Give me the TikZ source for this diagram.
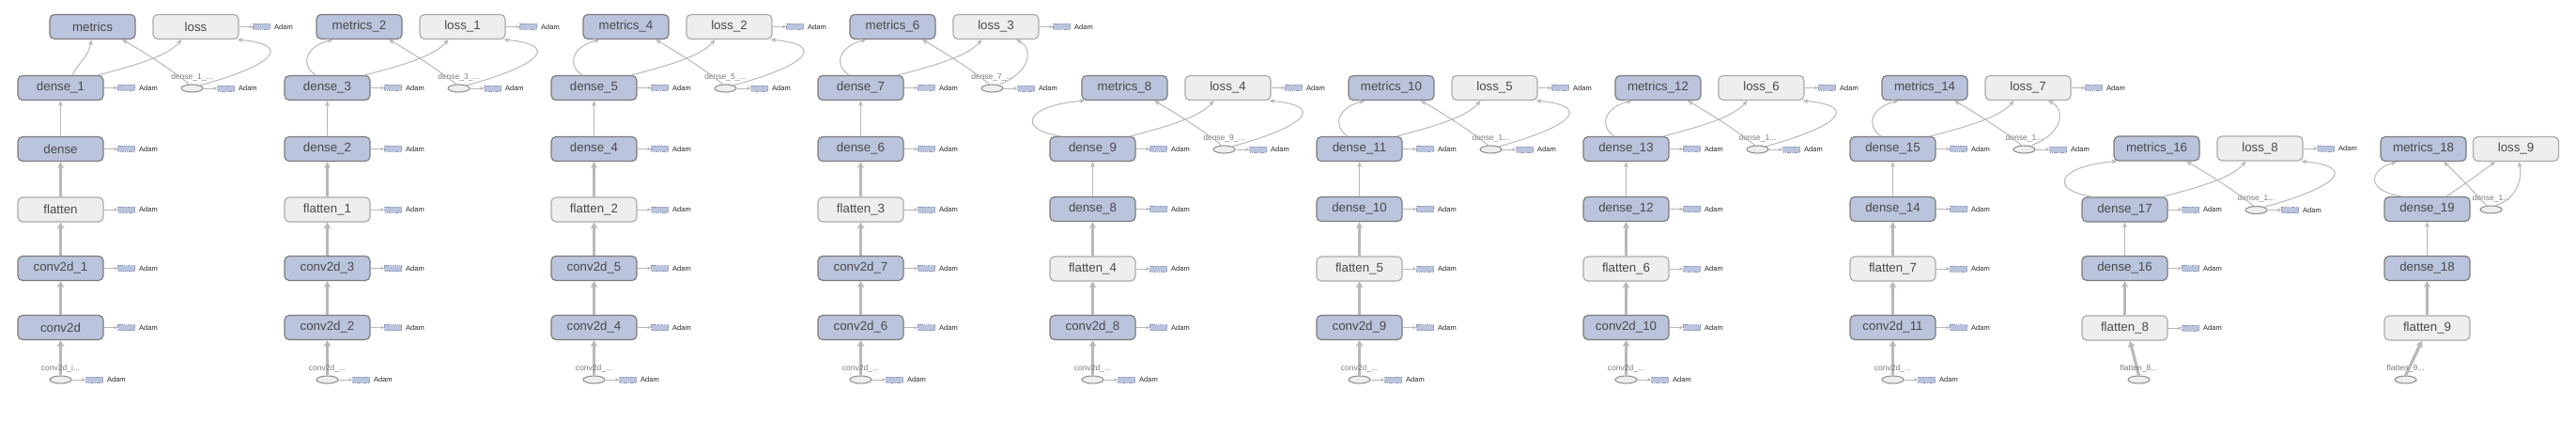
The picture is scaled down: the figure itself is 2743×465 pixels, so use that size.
\documentclass[tikz,border=0pt]{standalone}
\usepackage{fontspec}
\setmainfont{Liberation Sans}
\usetikzlibrary{arrows.meta,shapes.geometric}
\definecolor{nblue}{HTML}{BAC4DC}
\definecolor{nbord}{HTML}{7C7C7C}
\definecolor{nlight}{HTML}{EEEEEE}
\definecolor{lbord}{HTML}{ABABAB}
\definecolor{ntext}{HTML}{4A4A4A}
\definecolor{ecol}{HTML}{B8B8B8}
\definecolor{etext}{HTML}{7A7A7A}
\definecolor{abord}{HTML}{8E9BC2}
\newcommand{\nfont}{\fontsize{13.3}{14}\selectfont}
\newcommand{\smfont}{\fontsize{8.5}{9}\selectfont}
\newcommand{\afont}{\fontsize{7.5}{8}\selectfont}
\tikzset{
  bnode/.style={draw=nbord, fill=nblue, line width=1.2pt, rounded corners=5pt, minimum width=91pt, minimum height=26pt, inner sep=0pt, text=ntext, font=\nfont},
  lnode/.style={bnode, draw=lbord, fill=nlight},
  enode/.style={ellipse, draw=lbord!85!black, fill=nlight, line width=1.1pt, minimum width=23pt, minimum height=8pt, inner sep=0pt},
  elab/.style={font=\smfont, text=etext, inner sep=0pt},
  abox/.style={draw=abord, dash pattern=on 1.5pt off 0.8pt, fill=nblue, line width=0.8pt, minimum width=18pt, minimum height=6pt, inner sep=0pt},
  atext/.style={font=\afont, text=black!85, anchor=west, inner sep=0pt},
  thinflow/.style={draw=ecol, line width=1pt, -{Stealth[length=6pt,width=5pt]}},
  midflow/.style={draw=ecol, line width=2.6pt, -{Stealth[length=7pt,width=7pt]}},
  fatflow/.style={draw=ecol, line width=3.2pt, -{Stealth[length=7pt,width=8pt]}},
  aflow/.style={draw=ecol, line width=0.9pt, -{Stealth[length=4pt,width=4pt]}}
}
\newcommand{\adamof}[1]{%
  \node[abox] (#1-ab) at ([xshift=24pt]#1.east) {};
  \node[atext] (#1-at) at ([xshift=4pt]#1-ab.east) {Adam};
  \draw[aflow] (#1.east) -- (#1-ab.west);
}
\newcommand{\toppart}[5]{%
  \node[bnode] (#1m) at (34,28.5) {#2};
  \node[lnode] (#1l) at (144,28.5) {#3};
  \node[bnode] (#1d) at (0,93.5) {#4};
  \node[enode] (#1e) at (140,94) {};
  \node[elab] (#1el) at (140,82) {#5};
  \draw[thinflow] ([xshift=40pt]#1d.north) .. controls (90,67) and (115,58) .. ([xshift=-15pt]#1l.south);
  \draw[thinflow] ([xshift=-3pt]#1e.north) .. controls (115,72) and (88,55) .. ([xshift=31.5pt]#1m.south);
  \adamof{#1l}\adamof{#1d}\adamof{#1e}%
}
\newcommand{\mleft}[1]{\draw[thinflow] ([xshift=-12.5pt]#1d.north) .. controls (-28,70) and (-25,50) .. ([xshift=-28pt]#1m.south);}
\newcommand{\mbig}[1]{\draw[thinflow] ([xshift=-33.5pt]#1d.north) .. controls (-82,73) and (-72,47) .. ([xshift=-42pt]#1m.south);}
\newcommand{\lright}[1]{\draw[thinflow] (#1e.north east) .. controls (225,70) and (250,48) .. ([xshift=44pt]#1l.south);}
\newcommand{\lup}[1]{\draw[thinflow] ([xshift=8pt]#1e.north) .. controls (180,78) and (185,52) .. ([xshift=21.5pt]#1l.south);}
% chain for graphs with two conv layers
\newcommand{\chainA}[7]{%
  \node[bnode] (#1d2) at (0,158.5) {#2};
  \node[lnode] (#1f) at (0,223) {#3};
  \node[bnode] (#1c2) at (0,285.5) {#4};
  \node[bnode] (#1c1) at (0,348.5) {#5};
  \node[enode] (#1i) at (0,404) {};
  \draw[thinflow] (#1d2) -- (#1d);
  \draw[midflow] (#1f) -- (#1d2);
  \draw[fatflow] (#1c2) -- (#1f);
  \draw[fatflow] (#1c1) -- (#1c2);
  \draw[fatflow] (#1i) -- (#1c1);
  \node[elab] (#1il) at (0,392) {#6};
  \adamof{#1d2}\adamof{#1f}\adamof{#1c2}\adamof{#1c1}\adamof{#1i}%
}
% chain for graphs with one conv layer
\newcommand{\chainB}[5]{%
  \node[bnode] (#1d2) at (0,222.5) {#2};
  \node[lnode] (#1f) at (0,286) {#3};
  \node[bnode] (#1c1) at (0,348.5) {#4};
  \node[enode] (#1i) at (0,404) {};
  \draw[thinflow] (#1d2) -- (#1d);
  \draw[midflow] (#1f) -- (#1d2);
  \draw[fatflow] (#1c1) -- (#1f);
  \draw[fatflow] (#1i) -- (#1c1);
  \node[elab] (#1il) at (0,392) {#5};
  \adamof{#1d2}\adamof{#1f}\adamof{#1c1}\adamof{#1i}%
}
\begin{document}
\begin{tikzpicture}[x=1pt,y=-1pt]
\fill[white] (0,0) rectangle (2743,465);
\useasboundingbox (0,0) rectangle (2743,465);
% ---------- graph 1
\begin{scope}[shift={(64.5,0)}]
  \toppart{g1}{metrics}{loss}{dense\_1}{dense\_1\_...}
  \draw[thinflow] ([xshift=12.5pt]g1d.north) .. controls (20,66) and (31,58) .. ([xshift=-1.5pt]g1m.south);
  \lright{g1}
  \chainA{g1}{dense}{flatten}{conv2d\_1}{conv2d}{conv2d\_i...}{}
\end{scope}
% ---------- graph 2
\begin{scope}[shift={(348.5,0)}]
  \toppart{g2}{metrics\_2}{loss\_1}{dense\_3}{dense\_3\_...}
  \mleft{g2}\lright{g2}
  \chainA{g2}{dense\_2}{flatten\_1}{conv2d\_3}{conv2d\_2}{conv2d\_...}{}
\end{scope}
% ---------- graph 3
\begin{scope}[shift={(632.5,0)}]
  \toppart{g3}{metrics\_4}{loss\_2}{dense\_5}{dense\_5\_...}
  \mleft{g3}\lright{g3}
  \chainA{g3}{dense\_4}{flatten\_2}{conv2d\_5}{conv2d\_4}{conv2d\_...}{}
\end{scope}
% ---------- graph 4
\begin{scope}[shift={(916.5,0)}]
  \toppart{g4}{metrics\_6}{loss\_3}{dense\_7}{dense\_7\_...}
  \mleft{g4}\lup{g4}
  \chainA{g4}{dense\_6}{flatten\_3}{conv2d\_7}{conv2d\_6}{conv2d\_...}{}
\end{scope}
% ---------- graph 5
\begin{scope}[shift={(1163.5,65)}]
  \toppart{g5}{metrics\_8}{loss\_4}{dense\_9}{dense\_9\_...}
  \mbig{g5}\lright{g5}
\end{scope}
\begin{scope}[shift={(1163.5,0)}]
  \chainB{g5}{dense\_8}{flatten\_4}{conv2d\_8}{conv2d\_...}
\end{scope}
% ---------- graph 6
\begin{scope}[shift={(1447.5,65)}]
  \toppart{g6}{metrics\_10}{loss\_5}{dense\_11}{dense\_1...}
  \mleft{g6}\lright{g6}
\end{scope}
\begin{scope}[shift={(1447.5,0)}]
  \chainB{g6}{dense\_10}{flatten\_5}{conv2d\_9}{conv2d\_...}
\end{scope}
% ---------- graph 7
\begin{scope}[shift={(1731.5,65)}]
  \toppart{g7}{metrics\_12}{loss\_6}{dense\_13}{dense\_1...}
  \mleft{g7}\lright{g7}
\end{scope}
\begin{scope}[shift={(1731.5,0)}]
  \chainB{g7}{dense\_12}{flatten\_6}{conv2d\_10}{conv2d\_...}
\end{scope}
% ---------- graph 8
\begin{scope}[shift={(2015.5,65)}]
  \toppart{g8}{metrics\_14}{loss\_7}{dense\_15}{dense\_1...}
  \mleft{g8}\lup{g8}
\end{scope}
\begin{scope}[shift={(2015.5,0)}]
  \chainB{g8}{dense\_14}{flatten\_7}{conv2d\_11}{conv2d\_...}
\end{scope}
% ---------- graph 9
\begin{scope}[shift={(2262.5,129.5)}]
  \toppart{g9}{metrics\_16}{loss\_8}{dense\_17}{dense\_1...}
  \mbig{g9}\lright{g9}
\end{scope}
\begin{scope}[shift={(2262.5,0)}]
  \node[bnode] (g9d2) at (0,285.5) {dense\_16};
  \node[lnode] (g9f) at (0,349) {flatten\_8};
  \node[enode] (g9i) at (15,404) {};
  \draw[thinflow] (g9d2) -- (g9d);
  \draw[fatflow] (g9f) -- (g9d2);
  \draw[fatflow] (g9i.north) -- ([xshift=5.5pt]g9f.south);
  \node[elab] (g9il) at (15,392) {flatten\_8...};
  \adamof{g9d2}\adamof{g9f}
\end{scope}
% ---------- graph 10
\begin{scope}[shift={(2584.5,0)}]
  \node[bnode] (g10m) at (-4,158.5) {metrics\_18};
  \node[lnode] (g10l) at (94.5,158.5) {loss\_9};
  \node[bnode] (g10d) at (0,222.5) {dense\_19};
  \node[enode] (g10e) at (68,223) {};
  \node[elab] (g10el) at (68,211) {dense\_1...};
  \node[bnode] (g10d2) at (0,285.5) {dense\_18};
  \node[lnode] (g10f) at (0,349) {flatten\_9};
  \node[enode] (g10i) at (-23,404) {};
  \draw[thinflow] ([xshift=-27.5pt]g10d.north) .. controls (-68,202) and (-60,180) .. ([xshift=-28.5pt]g10m.south);
  \draw[thinflow] ([xshift=20.5pt]g10d.north) .. controls (40,196) and (55,185) .. ([xshift=-22pt]g10l.south);
  \draw[thinflow] ([xshift=-5pt]g10e.north) .. controls (50,205) and (35,188) .. ([xshift=21.5pt]g10m.south);
  \draw[thinflow] ([xshift=5pt]g10e.north) .. controls (95,212) and (102,190) .. ([xshift=3pt]g10l.south);
  \draw[thinflow] (g10d2) -- (g10d);
  \draw[fatflow] (g10f) -- (g10d2);
  \draw[fatflow] (g10i.north) -- ([xshift=-5.5pt]g10f.south);
  \node[elab] (g10il) at (-23,392) {flatten\_9...};
\end{scope}
\end{tikzpicture}
\end{document}
